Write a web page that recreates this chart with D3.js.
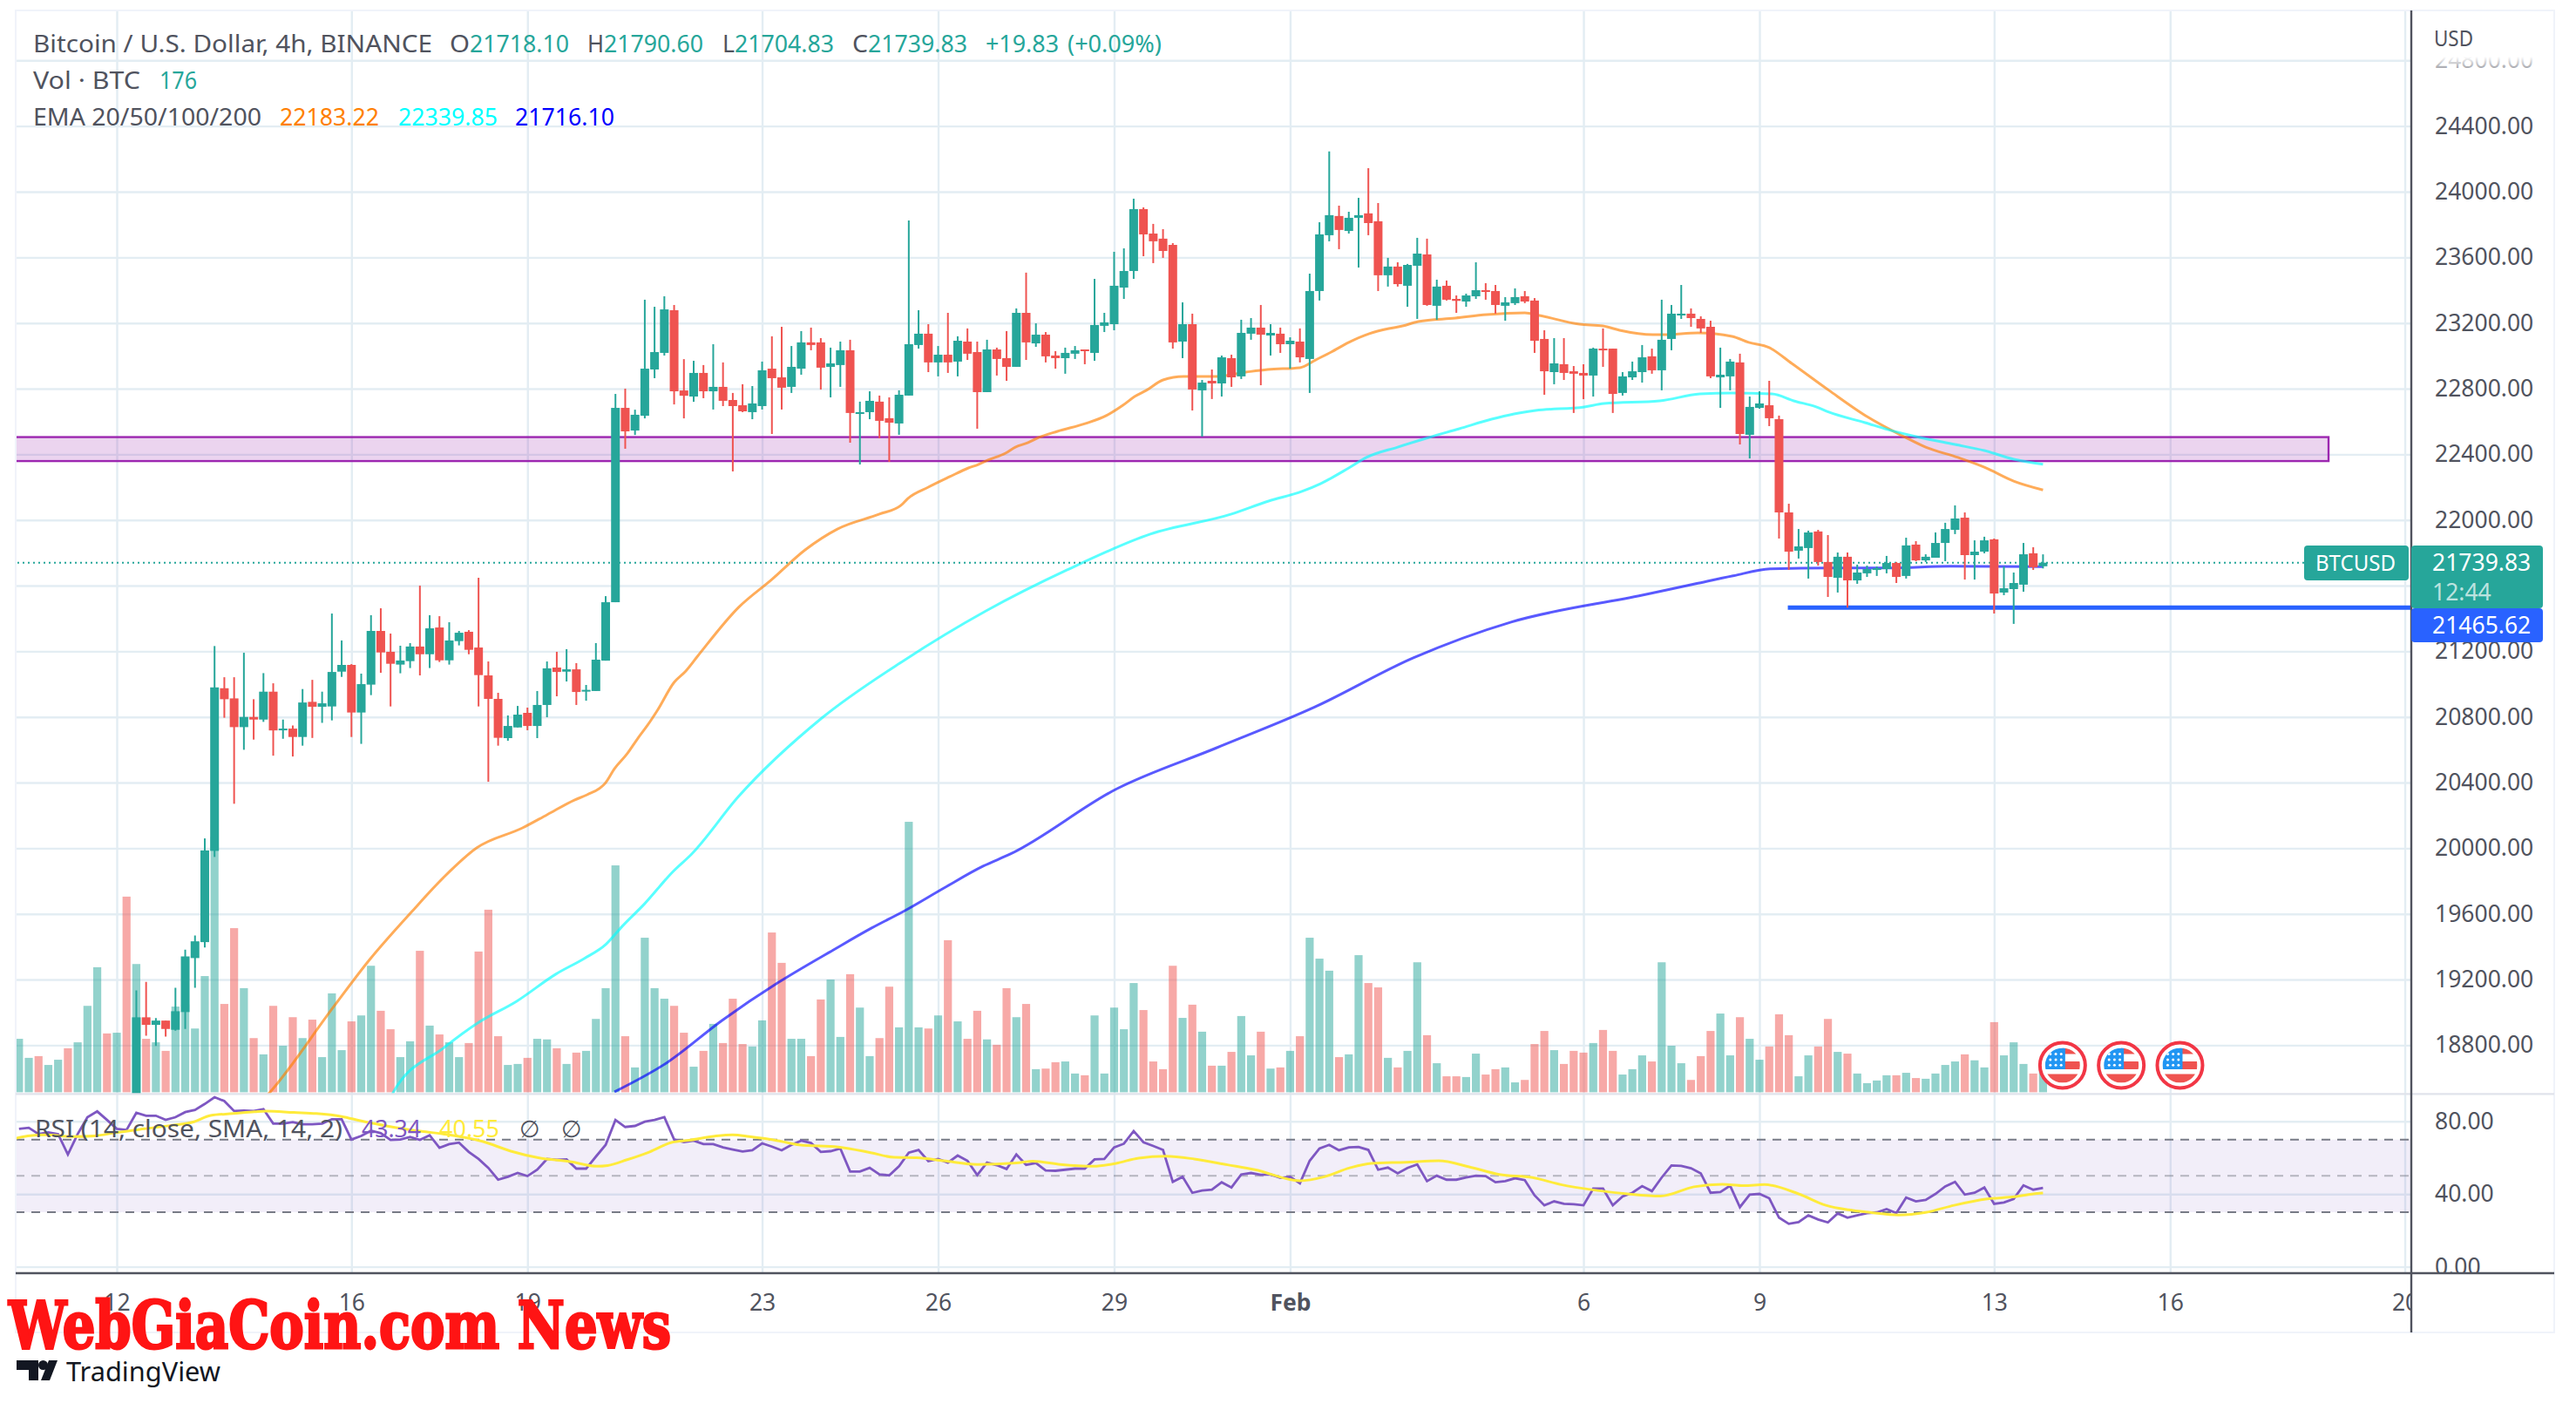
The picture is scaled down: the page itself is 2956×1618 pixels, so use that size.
<!DOCTYPE html>
<html>
<head>
<meta charset="utf-8">
<script src="https://cdn.jsdelivr.net/npm/d3@7"></script>
<style>
  html, body { margin: 0; padding: 0; background: #fff; }
  text { font-family: "Noto Sans", sans-serif; }
  .axis .domain { display: none; }
  .axis line { stroke: #e3edf3; stroke-width: 2.4; }
  .labels .tick line { display: none; }
  .labels text { fill: #50535e; font-size: 26.5px; }
</style>
</head>
<body>
<div id="chart"></div>
<script>
// bars are numbered in 4h steps from 12 Jan 00:00
const firstCandle = 2
const opens = [
  18250, 18970, 18924, 18950, 18894, 19002, 19331, 19428, 19984, 20975,
  20913, 20738, 20800, 20784, 20954, 20720, 20729, 20678, 20892, 20862,
  20864, 21076, 21117, 20827, 20997, 21324, 21197, 21119, 21140, 21229,
  21182, 21345, 21145, 21262, 21319, 21223, 21053, 20910, 20671, 20736,
  20825, 20745, 20873, 21101, 21076, 21090, 20958, 20958, 21143, 21499,
  22683, 22545, 22635, 22917, 23018, 23278, 22789, 22752, 22896, 22784,
  22811, 22731, 22699, 22657, 22694, 22922, 22869, 22811, 22922, 23082,
  23082, 22933, 22944, 23034, 22646, 22657, 22721, 22620, 22588, 22758,
  23066, 23135, 22960, 23007, 22965, 23087, 23023, 22779, 23039, 22986,
  22933, 23262, 23076, 23129, 23002, 22986, 23013, 23039, 23018, 23183,
  23193, 23416, 23517, 23894, 23745, 23714, 23676, 23087, 23193, 22790,
  22848, 22832, 22986, 22875, 23135, 23172, 23124, 23135, 23071, 23087,
  22981, 23395, 23735, 23852, 23761, 23841, 23868, 23820, 23491, 23544,
  23427, 23549, 23618, 23305, 23427, 23347, 23331, 23363, 23400, 23395,
  23305, 23321, 23363, 23337, 23103, 22901, 22949, 22906, 22896, 22880,
  23044, 23044, 22774, 22869, 22901, 22997, 22912, 23103, 23246, 23257,
  23225, 23177, 22869, 22875, 22960, 22519, 22683, 22699, 22614, 22046,
  21813, 21829, 21930, 21744, 21648, 21776, 21632, 21675, 21696, 21701,
  21738, 21659, 21850, 21754, 21770, 21860, 21940, 22014, 21786, 21807,
  21882, 21558, 21579, 21606, 21797, 21718.10
]
const closes = [
  18970, 18924, 18950, 18899, 19007, 19341, 19433, 19987, 20980, 20908,
  20738, 20800, 20784, 20954, 20718, 20729, 20678, 20888, 20862, 20883,
  21074, 21117, 20827, 21000, 21324, 21193, 21124, 21144, 21229, 21182,
  21340, 21145, 21266, 21313, 21209, 21055, 20910, 20673, 20745, 20814,
  20745, 20873, 21096, 21074, 21090, 20952, 20965, 21149, 21499, 22683,
  22540, 22641, 22922, 23023, 23283, 22784, 22757, 22896, 22784, 22811,
  22726, 22694, 22662, 22710, 22912, 22864, 22806, 22933, 23082, 23066,
  22928, 22954, 23034, 22652, 22657, 22726, 22604, 22593, 22763, 23071,
  23135, 22960, 23007, 22960, 23092, 23013, 22779, 23039, 22981, 22933,
  23262, 23082, 23129, 22997, 22986, 23018, 23034, 23029, 23188, 23204,
  23427, 23517, 23894, 23740, 23698, 23639, 23082, 23193, 22795, 22837,
  22832, 22991, 22869, 23140, 23172, 23129, 23140, 23071, 23092, 22991,
  23395, 23740, 23857, 23767, 23841, 23857, 23809, 23491, 23544, 23437,
  23554, 23623, 23310, 23422, 23342, 23335, 23368, 23400, 23390, 23310,
  23326, 23358, 23331, 23092, 22906, 22954, 22896, 22891, 22880, 23044,
  23034, 22768, 22875, 22906, 22991, 22912, 23098, 23257, 23257, 23230,
  23167, 22875, 22885, 22965, 22524, 22689, 22710, 22620, 22046, 21807,
  21839, 21924, 21744, 21653, 21776, 21632, 21680, 21701, 21706, 21738,
  21653, 21845, 21754, 21776, 21860, 21945, 22009, 21786, 21807, 21876,
  21552, 21584, 21616, 21791, 21712, 21739.83
]
const highs = [
  19134, 19186, 18966, 18950, 19150, 19382, 19469, 20060, 21232, 21042,
  21042, 21191, 20908, 21067, 21005, 20784, 20748, 20970, 21026, 20954,
  21430, 21266, 21122, 21064, 21420, 21462, 21308, 21234, 21250, 21600,
  21420, 21414, 21377, 21324, 21329, 21648, 21138, 20947, 20809, 20867,
  20857, 20958, 21138, 21197, 21213, 21128, 20995, 21250, 21536, 22768,
  22800, 22672, 23342, 23299, 23363, 23310, 22980, 22970, 22944, 23071,
  22960, 22774, 22827, 22816, 22965, 23119, 23177, 23060, 23151, 23172,
  23108, 23050, 23087, 23098, 22721, 22784, 22758, 22747, 22790, 23825,
  23278, 23193, 23060, 23262, 23119, 23167, 23087, 23098, 23050, 23151,
  23289, 23507, 23198, 23145, 23029, 23050, 23060, 23039, 23469, 23262,
  23634, 23655, 23958, 23905, 23804, 23772, 23687, 23326, 23257, 22853,
  22917, 23002, 23007, 23220, 23230, 23310, 23193, 23172, 23113, 23167,
  23501, 23814, 24245, 23915, 23878, 23963, 24144, 23931, 23597, 23570,
  23560, 23719, 23714, 23464, 23459, 23368, 23379, 23570, 23443, 23432,
  23358, 23411, 23395, 23352, 23156, 23108, 23108, 22938, 22949, 23050,
  23167, 23044, 22901, 22965, 23066, 23044, 23342, 23310, 23432, 23289,
  23241, 23214, 23050, 22981, 23013, 22752, 22784, 22848, 22636, 22099,
  21945, 21935, 21940, 21908, 21802, 21802, 21728, 21722, 21717, 21781,
  21744, 21892, 21871, 21791, 21924, 21983, 22089, 22046, 21876, 21898,
  21887, 21717, 21680, 21860, 21834, 21790.60
]
const lows = [
  18200, 18858, 18796, 18853, 18888, 18899, 19150, 19396, 19947, 20795,
  20271, 20600, 20662, 20770, 20564, 20667, 20559, 20625, 20672, 20764,
  20779, 21044, 20678, 20636, 20933, 21069, 20864, 21066, 21098, 21053,
  21098, 21135, 21119, 21236, 21182, 20864, 20405, 20625, 20655, 20736,
  20719, 20671, 20798, 20926, 21016, 20873, 20899, 20958, 21143, 21499,
  22434, 22518, 22619, 22864, 23002, 22704, 22619, 22720, 22742, 22673,
  22694, 22296, 22657, 22614, 22673, 22524, 22673, 22774, 22885, 23034,
  22795, 22747, 22811, 22471, 22338, 22614, 22498, 22354, 22519, 22758,
  23044, 22901, 22875, 22896, 22875, 22975, 22556, 22779, 22880, 22848,
  22933, 22975, 23055, 22960, 22922, 22891, 22981, 22949, 22970, 23145,
  23156, 23347, 23469, 23607, 23565, 23597, 23044, 22986, 22667, 22508,
  22737, 22752, 22811, 22859, 23098, 22821, 23002, 23018, 22922, 22960,
  22774, 23337, 23698, 23650, 23745, 23538, 23735, 23395, 23422, 23422,
  23299, 23225, 23305, 23220, 23337, 23262, 23299, 23347, 23342, 23257,
  23214, 23310, 23321, 23018, 22763, 22827, 22853, 22652, 22736, 22752,
  22933, 22652, 22758, 22853, 22837, 22891, 22790, 23034, 23225, 23177,
  23140, 22864, 22683, 22790, 22460, 22375, 22678, 22572, 21887, 21696,
  21765, 21643, 21722, 21531, 21558, 21466, 21611, 21653, 21659, 21675,
  21616, 21643, 21749, 21744, 21770, 21749, 21914, 21637, 21637, 21797,
  21430, 21542, 21367, 21563, 21696, 21704.83
]

// volume in BTC, starts at bar -10, the first bars' candles sit below the pane
const firstVolume = -10
const earlyVolumeUp = [true, true, false, true, true, false, true, true, true, false, true, false]
const volumes = [
  368, 237, 249, 188, 224, 303, 344, 595, 861, 405,
  410, 1347, 883, 368, 344, 285, 590, 605, 439, 800,
  1759, 608, 1130, 717, 373, 261, 595, 320, 517, 373,
  500, 242, 681, 290, 488, 529, 871, 561, 434, 242,
  351, 974, 459, 398, 344, 242, 339, 969, 1257, 386,
  188, 195, 237, 368, 364, 303, 195, 273, 285, 505,
  717, 1562, 386, 171, 1064, 717, 644, 595, 410, 176,
  285, 471, 339, 644, 332, 315, 495, 1100, 891, 368,
  368, 249, 639, 776, 381, 813, 583, 249, 373, 727,
  447, 1862, 447, 439, 529, 1047, 488, 368, 561, 364,
  327, 717, 517, 608, 159, 163, 207, 212, 129, 117,
  529, 129, 583, 434, 752, 566, 212, 159, 871, 512,
  603, 417, 183, 183, 278, 525, 254, 417, 163, 171,
  285, 386, 1064, 920, 837, 242, 261, 944, 752, 722,
  237, 171, 285, 895, 393, 200, 110, 110, 105, 266,
  122, 159, 171, 68, 85, 332, 422, 290, 195, 285,
  273, 339, 429, 285, 122, 159, 254, 212, 895, 320,
  200, 85, 249, 422, 542, 254, 517, 368, 224, 315,
  537, 393, 110, 254, 315, 505, 278, 266, 129, 63,
  81, 117, 117, 134, 98, 93, 129, 188, 212, 261,
  220, 171, 483, 254, 344, 195, 129, 176
]

const ema50Bars = [
  15, 15.7, 22.2, 25.8, 30.1, 33.5, 36.8, 41.5, 44, 46.8, 48.1, 50, 50.9, 52.2, 53.3, 54.3, 55.3, 57, 58.2, 59.4,
  63.6, 67, 70.4, 73.7, 78, 80.2, 80.9, 83, 85.2, 87.1, 88.1, 89.1, 90.9, 91.9, 93.2, 94.3, 96.2, 99.1, 101.2, 102.9,
  104.1, 105.3, 107, 109.1, 112.3, 115.5, 117.7, 121, 122.6, 124.2, 126, 128.1, 130.1, 131.5, 133.1, 136.9, 140.1, 144, 145.5, 149.6,
  152, 153.7, 157.1, 158.3, 161.7, 165.2, 166.9, 169, 171.3, 175.1, 179, 182.6, 185, 188.3, 191, 194, 197
]
const ema50Values = [
  18470, 18516, 19036, 19317, 19609, 19827, 20002, 20124, 20204, 20294, 20326, 20400, 20485, 20576, 20671, 20751, 20841, 21011, 21080, 21170,
  21468, 21638, 21818, 21945, 22036, 22089, 22131, 22200, 22264, 22317, 22338, 22365, 22407, 22444, 22471, 22503, 22540, 22588, 22636, 22699,
  22752, 22790, 22853, 22874, 22874, 22901, 22917, 22928, 22975, 23023, 23082, 23135, 23166, 23182, 23209, 23230, 23251, 23262, 23246, 23193,
  23182, 23156, 23129, 23129, 23140, 23119, 23082, 23050, 22954, 22790, 22630, 22513, 22444, 22381, 22322, 22237, 22183.22
]
const ema100Bars = [
  28, 28.3, 33.5, 36.9, 40.9, 44.9, 47.8, 50, 51.7, 54, 56.9, 58.8, 63.6, 72.1, 80.5, 88.9, 97.2, 105.7, 114, 117.8,
  121.2, 123.1, 126, 127.8, 131, 134.2, 137.3, 140.6, 142.9, 145.1, 150.1, 152.1, 157.8, 161.9, 165.2, 169.3, 171.5, 173.8, 175.1, 178.8,
  181.1, 184.4, 188, 191, 194, 197
]
const ema100Values = [
  18460, 18516, 18787, 18935, 19068, 19233, 19328, 19413, 19525, 19663, 19859, 19965, 20316, 20793, 21144, 21446, 21696, 21914, 22036, 22115,
  22174, 22221, 22317, 22381, 22444, 22503, 22556, 22614, 22646, 22667, 22689, 22710, 22726, 22768, 22774, 22768, 22726, 22689, 22657, 22593,
  22551, 22503, 22460, 22423, 22370, 22339.85
]
const ema200Bars = [
  50.9, 56.2, 61.9, 67.6, 73.3, 77.2, 80.6, 84.6, 88.6, 91.4, 102.3, 112.4, 122.5, 132.6, 142.6, 156.1, 161.5, 165.3, 169.1, 175.4, 181.4, 187.5, 197
]
const ema200Values = [
  18516, 18691, 18951, 19180, 19381, 19514, 19620, 19758, 19891, 19965, 20363, 20610, 20860, 21160, 21378, 21543, 21612, 21660, 21702, 21708, 21708, 21718, 21716.10
]

// RSI per bar from bar -10
const firstRsi = -10
const rsiValues = [
  75.9, 76.5, 73.0, 73.9, 73.0, 61.8, 73.0, 82.3, 85.5, 80.8,
  75.9, 75.3, 84.7, 83.1, 83.1, 80.8, 82.3, 85.1, 86.3, 89.6,
  93.3, 91.2, 85.7, 85.9, 85.7, 86.7, 78.8, 78.8, 79.6, 78.4,
  78.4, 78.8, 81.2, 81.2, 70.0, 72.0, 74.9, 73.5, 69.8, 70.0,
  71.4, 69.8, 72.4, 65.5, 67.5, 68.3, 63.2, 59.3, 54.4, 47.9,
  49.5, 51.6, 49.9, 53.4, 59.3, 58.9, 59.1, 54.0, 54.0, 60.6,
  67.1, 80.8, 76.9, 77.5, 79.8, 80.8, 82.3, 70.0, 68.6, 69.4,
  67.5, 67.5, 65.7, 64.5, 63.4, 64.1, 67.9, 66.1, 64.1, 67.1,
  69.4, 68.1, 63.2, 63.6, 65.1, 52.4, 52.4, 54.4,
  50.8, 50.3, 55.3, 62.8, 64.3, 58.1, 59.3, 57.3, 61.2, 58.3,
  50.5, 57.3, 55.9, 53.8, 61.8, 56.1, 57.1, 53.0, 52.8, 53.4,
  54.0, 54.0, 59.1, 59.3, 65.7, 67.7, 74.7, 68.5, 66.5, 64.3,
  46.7, 49.5, 40.7, 42.0, 42.4, 46.5, 43.6, 50.8, 51.6, 50.6,
  50.8, 48.9, 49.5, 45.9, 58.3, 65.1, 67.1, 64.1, 65.7, 65.9,
  64.3, 53.4, 54.6, 51.4, 54.4, 56.3, 47.1, 50.1, 47.9, 47.9,
  49.1, 50.1, 49.9, 46.5, 47.1, 48.7, 47.7, 39.3, 33.8, 36.0,
  34.6, 34.4, 33.8, 43.0, 43.0, 33.8, 38.7, 40.7, 44.4, 41.6,
  49.1, 55.7, 55.5, 54.2, 51.4, 40.7, 41.1, 44.6, 32.8, 39.7,
  40.1, 37.7, 27.0, 23.6, 24.6, 28.3, 26.0, 24.4, 29.3, 27.0,
  28.3, 29.5, 29.9, 31.7, 29.5, 38.1, 36.0, 36.8, 40.1, 44.2,
  46.7, 39.7, 40.7, 43.6, 34.6, 35.4, 37.3, 44.8, 42.4, 43.34
]
const rsiMaBars = [
  -10.4, -9.1, -7.2, -4.6, -2.3, 0, 2.8, 5.6, 7.9, 9.6, 11.9, 14.1, 15.3, 18.1, 20.4, 23, 24.9, 27.8, 31.2, 33.5,
  37.4, 40.3, 43.1, 46.5, 49.1, 50.2, 52.2, 54.5, 56.8, 58.5, 61.3, 63, 64.7, 67.6, 69.8, 73.8, 77.1, 79.5, 81.8, 84.6,
  88, 92, 93.7, 96.5, 99.9, 102.2, 104.5, 107.3, 110.2, 113.6, 116.4, 121, 123.5, 126.1, 128.3, 131.8, 135.2, 138.3, 141.4, 144.8,
  147.7, 151.1, 154.5, 157.9, 161.3, 164.2, 166.4, 168.5, 172, 174.8, 177.1, 179.3, 182.2, 185, 187.9, 191.3, 194.1, 196.4, 197
]
const rsiMaValues = [
  70.6, 72.0, 72.6, 71.6, 72.0, 73.9, 75.9, 77.8, 79.8, 83.3, 84.3, 85.3, 85.7, 84.9, 84.3, 82.7, 80.4, 77.3, 74.5, 73.0,
  69.0, 63.6, 60.0, 57.7, 55.3, 55.7, 58.9, 63.2, 68.5, 69.6, 72.0, 72.6, 71.6, 69.4, 67.1, 65.9, 62.8, 60.2, 60.0, 58.3,
  56.3, 57.1, 58.1, 56.3, 55.3, 56.9, 59.8, 60.8, 59.3, 56.1, 53.4, 47.3, 49.5, 54.4, 56.9, 57.5, 58.3, 55.0, 50.8, 49.1,
  45.2, 42.2, 40.1, 38.9, 44.0, 45.4, 44.6, 45.2, 40.1, 33.8, 31.3, 29.9, 28.5, 29.9, 33.8, 37.3, 38.5, 40.3, 40.55
]

const priceTicks = d3.range(18800, 24801, 400)
const rsiTicks = [0, 40, 80]
const rsiLevels = [70, 50, 30]
const timeTickBars = [0, 24, 42, 66, 84, 102, 120, 150, 168, 192, 210, 234]
const timeTickLabels = ['12', '16', '19', '23', '26', '29', 'Feb', '6', '9', '13', '16', '20']
const eventBars = [199, 205, 211]

const lastPrice = 21739.83
const linePrice = 21465.62
const zoneTop = 22505
const zoneBottom = 22359
const lineStartBar = 170.9
const zoneEndBar = 226.2

const teal = '#26a69a'
const red = '#ef5350'
const ink = '#50535e'

const width = 2956
const height = 1618
const pane = { left: 18, right: 2767, outer: 2931, top: 12, split: 1255.4, bottom: 1461, foot: 1529 }

const svg = d3
  .select('#chart')
  .append('svg')
  .attr('width', width)
  .attr('height', height)
  .style('display', 'block')

const defs = svg.append('defs')
defs.append('clipPath').attr('id', 'price-clip').append('rect')
  .attr('x', pane.left).attr('y', pane.top)
  .attr('width', pane.right - pane.left).attr('height', pane.split - pane.top)
defs.append('clipPath').attr('id', 'rsi-clip').append('rect')
  .attr('x', pane.left).attr('y', pane.split)
  .attr('width', pane.right - pane.left).attr('height', pane.bottom - pane.split)
defs.append('clipPath').attr('id', 'time-clip').append('rect')
  .attr('x', pane.left).attr('y', pane.bottom)
  .attr('width', pane.right - pane.left).attr('height', pane.foot - pane.bottom)
defs.append('clipPath').attr('id', 'rsi-label-clip').append('rect')
  .attr('x', pane.right).attr('y', pane.split)
  .attr('width', pane.outer - pane.right).attr('height', pane.bottom - pane.split)
defs.append('clipPath').attr('id', 'flag-clip').append('circle').attr('r', 20)
const fade = defs.append('linearGradient').attr('id', 'usd-fade').attr('x1', 0).attr('x2', 0).attr('y1', 0).attr('y2', 1)
fade.append('stop').attr('offset', 0.75).attr('stop-color', '#fff').attr('stop-opacity', 1)
fade.append('stop').attr('offset', 1).attr('stop-color', '#fff').attr('stop-opacity', 0.35)

// scales
const xScale = d3.scaleLinear().domain([0, 192]).range([134, 2288.3])
const yScale = d3.scaleLinear().domain([24000, 18800]).range([220, 1199.4])
const volScale = d3.scaleLinear().domain([0, 1800]).range([1253.4, 953.4])
const rsiScale = d3.scaleLinear().domain([80, 0]).range([1286.8, 1453.6])

// gridlines
const priceGrid = d3.axisLeft(yScale).tickValues(priceTicks).tickSize(-(pane.right - pane.left)).tickFormat('')
svg.append('g').attr('class', 'axis').attr('transform', `translate(${pane.left},0)`).call(priceGrid)

const rsiGrid = d3.axisLeft(rsiScale).tickValues(rsiTicks).tickSize(-(pane.right - pane.left)).tickFormat('')
svg.append('g').attr('class', 'axis').attr('transform', `translate(${pane.left},0)`).call(rsiGrid)

const timeGrid = d3.axisTop(xScale).tickValues(timeTickBars).tickSize(-(pane.bottom - pane.top)).tickFormat('')
svg.append('g').attr('class', 'axis').attr('transform', `translate(0,${pane.top})`).call(timeGrid)

// price pane
const pricePane = svg.append('g').attr('clip-path', 'url(#price-clip)')

const volumeRows = volumes.map((v, i) => {
  const bar = firstVolume + i
  const c = bar - firstCandle
  const up = c >= 0 ? closes[c] >= opens[c] : earlyVolumeUp[i]
  return { bar, v, up }
})

pricePane.selectAll('.vol')
  .data(volumeRows)
  .enter()
  .append('rect')
  .attr('class', 'vol')
  .attr('x', d => xScale(d.bar) - 4.6)
  .attr('width', 9.2)
  .attr('y', d => volScale(d.v))
  .attr('height', d => volScale(0) - volScale(d.v))
  .attr('fill', d => d.up ? teal : red)
  .attr('fill-opacity', 0.5)

pricePane.append('rect')
  .attr('x', pane.left - 4)
  .attr('width', xScale(zoneEndBar) - pane.left + 4)
  .attr('y', yScale(zoneTop))
  .attr('height', yScale(zoneBottom) - yScale(zoneTop))
  .attr('fill', '#9c27b0')
  .attr('fill-opacity', 0.2)
  .attr('stroke', '#9c27b0')
  .attr('stroke-width', 2.4)

const bandLine = (bars, values) => d3.line()
  .curve(d3.curveMonotoneX)
  .x((d, i) => xScale(bars[i]))
  .y(d => yScale(d))(values)

const emaLines = [
  { bars: ema50Bars, values: ema50Values, color: '#ff7f00' },
  { bars: ema100Bars, values: ema100Values, color: '#00ffff' },
  { bars: ema200Bars, values: ema200Values, color: '#0000ff' }
]
pricePane.selectAll('.ema')
  .data(emaLines)
  .enter()
  .append('path')
  .attr('class', 'ema')
  .attr('d', d => bandLine(d.bars, d.values))
  .attr('fill', 'none')
  .attr('stroke', d => d.color)
  .attr('stroke-opacity', 0.65)
  .attr('stroke-width', 3)

pricePane.append('line')
  .attr('x1', pane.left + 2)
  .attr('x2', 2644)
  .attr('y1', yScale(lastPrice))
  .attr('y2', yScale(lastPrice))
  .attr('stroke', teal)
  .attr('stroke-width', 2)
  .attr('stroke-dasharray', '2 4')

pricePane.append('line')
  .attr('x1', xScale(lineStartBar))
  .attr('x2', pane.right)
  .attr('y1', yScale(linePrice))
  .attr('y2', yScale(linePrice))
  .attr('stroke', '#2962ff')
  .attr('stroke-width', 5)

// candles
const candleRows = opens.map((o, i) => ({
  bar: firstCandle + i,
  o,
  c: closes[i],
  h: highs[i],
  l: lows[i]
}))

pricePane.selectAll('.wick')
  .data(candleRows)
  .enter()
  .append('line')
  .attr('class', 'wick')
  .attr('x1', d => xScale(d.bar))
  .attr('x2', d => xScale(d.bar))
  .attr('y1', d => yScale(d.h))
  .attr('y2', d => yScale(d.l))
  .attr('stroke', d => d.c >= d.o ? teal : red)
  .attr('stroke-width', 2)

pricePane.selectAll('.body')
  .data(candleRows)
  .enter()
  .append('rect')
  .attr('class', 'body')
  .attr('x', d => xScale(d.bar) - 5)
  .attr('width', 10)
  .attr('y', d => yScale(Math.max(d.o, d.c)))
  .attr('height', d => Math.max(2, Math.abs(yScale(d.o) - yScale(d.c))))
  .attr('fill', d => d.c >= d.o ? teal : red)

// RSI pane
const rsiPane = svg.append('g').attr('clip-path', 'url(#rsi-clip)')

rsiPane.append('rect')
  .attr('x', pane.left)
  .attr('width', pane.right - pane.left)
  .attr('y', rsiScale(70))
  .attr('height', rsiScale(30) - rsiScale(70))
  .attr('fill', '#7e57c2')
  .attr('fill-opacity', 0.1)

rsiPane.selectAll('.level')
  .data(rsiLevels)
  .enter()
  .append('line')
  .attr('class', 'level')
  .attr('x1', pane.left)
  .attr('x2', pane.right)
  .attr('y1', d => rsiScale(d))
  .attr('y2', d => rsiScale(d))
  .attr('stroke', '#787b86')
  .attr('stroke-opacity', d => d === 50 ? 0.5 : 1)
  .attr('stroke-width', 2)
  .attr('stroke-dasharray', '10 8')

const rsiLine = d3.line()
  .x((d, i) => xScale(firstRsi + i))
  .y(d => rsiScale(d))

rsiPane.append('path')
  .attr('d', rsiLine(rsiValues))
  .attr('fill', 'none')
  .attr('stroke', '#7e57c2')
  .attr('stroke-width', 2.8)

const rsiMaLine = d3.line()
  .curve(d3.curveMonotoneX)
  .x((d, i) => xScale(rsiMaBars[i]))
  .y(d => rsiScale(d))

rsiPane.append('path')
  .attr('d', rsiMaLine(rsiMaValues))
  .attr('fill', 'none')
  .attr('stroke', '#ffeb3b')
  .attr('stroke-width', 3)

// frame
svg.append('rect')
  .attr('x', pane.left)
  .attr('y', pane.top)
  .attr('width', pane.outer - pane.left)
  .attr('height', pane.foot - pane.top)
  .attr('fill', 'none')
  .attr('stroke', '#f0f3fa')
  .attr('stroke-width', 2)

svg.append('line')
  .attr('x1', pane.left).attr('x2', pane.outer)
  .attr('y1', pane.split).attr('y2', pane.split)
  .attr('stroke', '#e0e3eb').attr('stroke-width', 2.4)
svg.append('line')
  .attr('x1', pane.left).attr('x2', pane.outer)
  .attr('y1', pane.bottom).attr('y2', pane.bottom)
  .attr('stroke', ink).attr('stroke-width', 2.4)
svg.append('line')
  .attr('x1', pane.right).attr('x2', pane.right)
  .attr('y1', pane.top).attr('y2', pane.foot)
  .attr('stroke', ink).attr('stroke-width', 2.4)

// axis labels
const priceAxis = d3.axisRight(yScale).tickValues(priceTicks).tickSize(0).tickFormat(d3.format('.2f'))
svg.append('g')
  .attr('class', 'labels')
  .attr('transform', `translate(${pane.right + 24},0)`)
  .call(priceAxis)
  .call(g => g.select('.domain').remove())

svg.append('rect')
  .attr('x', pane.right + 3).attr('y', pane.top + 2)
  .attr('width', 160).attr('height', 68)
  .attr('fill', 'url(#usd-fade)')

svg.append('text')
  .attr('x', 2793).attr('y', 53)
  .attr('font-size', 26).attr('fill', ink)
  .attr('textLength', 45).attr('lengthAdjust', 'spacingAndGlyphs')
  .text('USD')

const rsiAxis = d3.axisRight(rsiScale).tickValues(rsiTicks).tickSize(0).tickFormat(d3.format('.2f'))
svg.append('g')
  .attr('clip-path', 'url(#rsi-label-clip)')
  .append('g')
  .attr('class', 'labels')
  .attr('transform', `translate(${pane.right + 24},0)`)
  .call(rsiAxis)
  .call(g => g.select('.domain').remove())

const timeAxis = d3.axisBottom(xScale)
  .tickValues(timeTickBars)
  .tickSize(0)
  .tickFormat((d, i) => timeTickLabels[i])
svg.append('g')
  .attr('clip-path', 'url(#time-clip)')
  .append('g')
  .attr('class', 'labels')
  .attr('transform', `translate(0,${pane.bottom + 21})`)
  .call(timeAxis)
  .call(g => g.select('.domain').remove())
  .call(g => g.selectAll('text').attr('font-weight', (d, i) => timeTickLabels[i] === 'Feb' ? 700 : 400))

// price tags
const tags = svg.append('g')
tags.append('rect')
  .attr('x', 2644).attr('y', 626).attr('width', 120).attr('height', 40).attr('rx', 4)
  .attr('fill', teal)
tags.append('rect')
  .attr('x', 2767).attr('y', 626).attr('width', 151).attr('height', 72).attr('rx', 4)
  .attr('fill', teal)
tags.append('rect')
  .attr('x', pane.right).attr('y', 698).attr('width', 151).attr('height', 39).attr('rx', 4)
  .attr('fill', '#2962ff')
tags.append('text')
  .attr('x', 2657).attr('y', 655)
  .attr('font-size', 26).attr('fill', '#fff')
  .attr('textLength', 92).attr('lengthAdjust', 'spacingAndGlyphs')
  .text('BTCUSD')
tags.append('text')
  .attr('x', 2791).attr('y', 655)
  .attr('font-size', 26.5).attr('fill', '#fff')
  .text(d3.format('.2f')(lastPrice))
tags.append('text')
  .attr('x', 2791).attr('y', 689)
  .attr('font-size', 26.5).attr('fill', '#fff').attr('fill-opacity', 0.7)
  .text('12:44')
tags.append('text')
  .attr('x', 2791).attr('y', 727)
  .attr('font-size', 26.5).attr('fill', '#fff')
  .text(d3.format('.2f')(linePrice))

// event flags
const flag = svg.selectAll('.flag')
  .data(eventBars)
  .enter()
  .append('g')
  .attr('class', 'flag')
  .attr('transform', d => `translate(${xScale(d)},1222.5)`)

flag.append('circle').attr('r', 26).attr('fill', '#fff').attr('stroke', '#f23645').attr('stroke-width', 4)
const flagBody = flag.append('g').attr('clip-path', 'url(#flag-clip)')
flagBody.append('rect').attr('x', -20).attr('y', -20).attr('width', 40).attr('height', 40).attr('fill', '#fff')
flagBody.append('rect').attr('x', 0).attr('y', -20).attr('width', 20).attr('height', 7).attr('fill', red)
flagBody.append('rect').attr('x', 0).attr('y', -4.5).attr('width', 20).attr('height', 9).attr('fill', red)
flagBody.append('rect').attr('x', -20).attr('y', 10).attr('width', 40).attr('height', 10).attr('fill', red)
flagBody.append('rect').attr('x', -20).attr('y', -20).attr('width', 23).attr('height', 24.5).attr('fill', '#2196f3')
d3.range(3).forEach(row => {
  d3.range(3).forEach(col => {
    flagBody.append('circle')
      .attr('cx', -14 + col * 6.2).attr('cy', -13 + row * 6.4)
      .attr('r', 1.5).attr('fill', '#fff')
  })
})

// legends
function legend(x, y, str, color, len) {
  const t = svg.append('text')
    .attr('x', x)
    .attr('y', y)
    .attr('font-size', 27)
    .attr('fill', color)
    .text(str)
  if (len) t.attr('textLength', len).attr('lengthAdjust', 'spacingAndGlyphs')
  return t
}

legend(38, 60, 'Bitcoin / U.S. Dollar, 4h, BINANCE', ink, 458)
legend(516, 60, 'O', ink, 23)
legend(539, 60, '21718.10', teal, 114)
legend(674, 60, 'H', ink, 19)
legend(693, 60, '21790.60', teal, 114)
legend(829, 60, 'L', ink, 14)
legend(843, 60, '21704.83', teal, 114)
legend(978, 60, 'C', ink, 18)
legend(996, 60, '21739.83', teal, 114)
legend(1131, 60, '+19.83', teal, 84)
legend(1225, 60, '(+0.09%)', teal, 108)

legend(38, 102, 'Vol · BTC', ink, 123)
legend(183, 102, '176', teal, 43)

legend(38, 144, 'EMA 20/50/100/200', ink, 262)
legend(321, 144, '22183.22', '#ff7f00', 114)
legend(457, 144, '22339.85', '#00ffff', 114)
legend(591, 144, '21716.10', '#0000ff', 114)

legend(40, 1305, 'RSI (14, close, SMA, 14, 2)', ink, 353)
legend(415, 1305, '43.34', '#7e57c2', 68)
legend(504, 1305, '40.55', '#ffeb3b', 69)
legend(596, 1305, '∅', ink, 24)
legend(644, 1305, '∅', ink, 24)

// footer marks
svg.append('text')
  .attr('x', 10)
  .attr('y', 1547)
  .style('font-family', '"DejaVu Serif", serif')
  .style('font-weight', 700)
  .attr('font-size', 74)
  .attr('fill', '#ff1414')
  .attr('stroke', '#ff1414')
  .attr('stroke-width', 3)
  .attr('textLength', 760)
  .attr('lengthAdjust', 'spacingAndGlyphs')
  .text('WebGiaCoin.com News')

const logo = svg.append('g').attr('fill', '#131722')
logo.append('path').attr('d', 'M19 1561H44V1584H33V1572H19Z')
logo.append('circle').attr('cx', 49.5).attr('cy', 1566.5).attr('r', 5.5)
logo.append('path').attr('d', 'M56 1561H66L57 1584H47Z')
svg.append('text')
  .attr('x', 76).attr('y', 1585)
  .attr('font-size', 30).attr('fill', '#131722')
  .attr('textLength', 177).attr('lengthAdjust', 'spacingAndGlyphs')
  .text('TradingView')
</script>
</body>
</html>
